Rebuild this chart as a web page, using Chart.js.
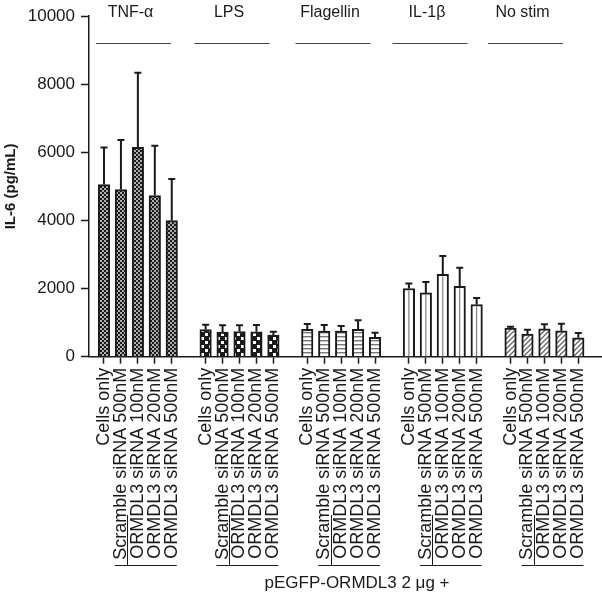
<!DOCTYPE html>
<html><head><meta charset="utf-8">
<script src="https://cdn.jsdelivr.net/npm/chart.js@4.4.1/dist/chart.umd.min.js"></script>
<style>html,body{margin:0;padding:0;background:#fff}#wrap{width:602px;height:594px}</style>
</head><body><div id="wrap"><canvas id="c" width="602" height="594"></canvas></div>
<script>
const groups = ['TNF-\u03b1', 'LPS', 'Flagellin', 'IL-1\u03b2', 'No stim'];
const conditions = ['Cells only', 'Scramble siRNA 500nM', 'ORMDL3 siRNA 100nM', 'ORMDL3 siRNA 200nM', 'ORMDL3 siRNA 500nM'];
const tnfMean = [5054, 4908, 6146, 4732, 3999];
const tnfErr  = [1092, 1454, 2195, 1464, 1220];
const lpsMean = [800, 720, 740, 730, 635];
const lpsErr  = [140, 200, 180, 200, 100];
const flaMean = [802, 752, 752, 802, 568];
const flaErr  = [155, 176, 146, 272, 134];
const il1Mean = [2002, 1873, 2420, 2069, 1533];
const il1Err  = [146, 322, 536, 547, 194];
const noMean  = [840, 664, 815, 761, 556];
const noErr   = [40, 130, 140, 210, 140];
const yTicks = [0, 2000, 4000, 6000, 8000, 10000];
const yTitle = 'IL-6 (pg/mL)';
const xTitle = 'pEGFP-ORMDL3 2 \u03bcg +';

const FONT = "'Liberation Sans', Arial, Helvetica, sans-serif";
const INK = '#1a1a1a';
const canvas = document.getElementById('c');
const ctx0 = canvas.getContext('2d');

function pat(w, h, draw) {
  const c = document.createElement('canvas'); c.width = w; c.height = h;
  const g = c.getContext('2d'); draw(g, w, h);
  return ctx0.createPattern(c, 'repeat');
}
const pTNF = pat(4, 4, g => { g.fillStyle = INK; g.fillRect(0,0,4,4); g.fillStyle = '#fff'; g.fillRect(0.2,0.2,1.6,1.6); g.fillRect(2.2,2.2,1.6,1.6); });
const pLPS = pat(8, 8, g => { g.fillStyle = INK; g.fillRect(0,0,8,8); g.fillStyle = '#fff'; g.fillRect(1,1,3,3); g.fillRect(5,5,3,3); });
const pFLA = pat(4, 4, g => { g.fillStyle = '#fff'; g.fillRect(0,0,4,4); g.fillStyle = '#777'; g.fillRect(0,0,4,1); g.fillStyle = '#c8c8c8'; g.fillRect(0,1,4,1); });
const pIL1 = '#ffffff';
const pNO = pat(5, 5, g => { g.fillStyle = '#fff'; g.fillRect(0,0,5,5); g.strokeStyle = '#666'; g.lineWidth = 1.3;
  g.beginPath(); g.moveTo(-1,6); g.lineTo(6,-1); g.moveTo(-1,1); g.lineTo(1,-1); g.moveTo(4,6); g.lineTo(6,4); g.stroke(); });

const series = [[tnfMean, tnfErr, pTNF], [lpsMean, lpsErr, pLPS], [flaMean, flaErr, pFLA], [il1Mean, il1Err, pIL1], [noMean, noErr, pNO]];
const positions = groups.flatMap((g, gi) => conditions.map((c, i) => gi * 6 + i));

const datasets = series.map(([m, e, p], gi) => ({
  label: groups[gi],
  data: m.map((v, i) => ({ x: gi * 6 + i, y: v })),
  errors: e,
  backgroundColor: p,
  borderColor: INK,
  borderWidth: 2,
  barThickness: 11.5,
  grouped: false
}));

const annot = {
  id: 'annot',
  afterDatasetsDraw(chart) {
    const c = chart.ctx, ys = chart.scales.y;
    c.save();
    chart.getDatasetMeta(3).data.forEach(el => {
      c.strokeStyle = '#666'; c.lineWidth = 1;
      c.beginPath(); c.moveTo(el.x, el.y + 2); c.lineTo(el.x, el.base); c.stroke();
    });
    chart.data.datasets.forEach((ds, di) => {
      chart.getDatasetMeta(di).data.forEach((el, i) => {
        const top = ys.getPixelForValue(ds.data[i].y + ds.errors[i]);
        c.strokeStyle = INK; c.lineWidth = 2;
        c.beginPath(); c.moveTo(el.x, el.y); c.lineTo(el.x, top);
        c.moveTo(el.x - 3.5, top); c.lineTo(el.x + 3.5, top); c.stroke();
      });
    });
    c.restore();
  },
  afterDraw(chart) {
    const c = chart.ctx, xs = chart.scales.x;
    c.save();
    const lineCenters = [133.5, 232, 333, 430, 525.5];
    c.font = '16px ' + FONT; c.fillStyle = INK; c.textAlign = 'center'; c.textBaseline = 'alphabetic';
    groups.forEach((g, gi) => {
      const cx = lineCenters[gi];
      c.fillText(g, cx - 3, 17);
      c.strokeStyle = '#444'; c.lineWidth = 1;
      c.beginPath(); c.moveTo(cx - 37.5, 43.5); c.lineTo(cx + 37.5, 43.5); c.stroke();
    });
    c.strokeStyle = INK; c.lineWidth = 1;
    groups.forEach((g, gi) => {
      const xs1 = xs.getPixelForValue(gi * 6 + 1);
      const xs2 = xs.getPixelForValue(gi * 6 + 2);
      const xe = xs.getPixelForValue(gi * 6 + 4);
      const vx = Math.round((xs1 + xs2) / 2) - 1.5;
      c.beginPath(); c.moveTo(vx, 515); c.lineTo(vx, 565.5);
      c.moveTo(xs1 - 6, 565.5); c.lineTo(xe + 5, 565.5); c.stroke();
    });
    c.font = '17px ' + FONT; c.textAlign = 'center'; c.textBaseline = 'middle';
    c.fillText(xTitle, 357, 583);
    c.restore();
  }
};

new Chart(canvas, {
  type: 'bar',
  data: { datasets },
  options: {
    responsive: false,
    animation: false,
    devicePixelRatio: 1,
    layout: { padding: { top: 15, right: 1, left: 0, bottom: 0 } },
    plugins: { legend: { display: false }, tooltip: { enabled: false } },
    scales: {
      x: {
        type: 'linear', min: -0.885, max: 29.34, offset: false,
        afterBuildTicks: s => { s.ticks = positions.map(v => ({ value: v })); },
        afterFit: s => { s.height = 237.3; s.paddingLeft = 0; s.paddingRight = 0; },
        ticks: { autoSkip: false, minRotation: 90, maxRotation: 90, padding: 4, color: INK,
          font: { family: FONT, size: 18, lineHeight: 1 },
          callback: v => conditions[((v % 6) + 6) % 6] },
        grid: { offset: false, drawOnChartArea: false, drawTicks: true, tickLength: 7, tickWidth: 1.5, tickColor: INK },
        border: { color: INK, width: 1.5 }
      },
      y: {
        min: 0, max: 10000,
        afterBuildTicks: s => { s.ticks = yTicks.map(v => ({ value: v })); },
        afterFit: s => { s.width = 89; },
        ticks: { padding: 6, color: INK, font: { family: FONT, size: 17 }, callback: v => String(v) },
        grid: { drawOnChartArea: false, drawTicks: true, tickLength: 8, tickWidth: 1.5, tickColor: INK },
        border: { color: INK, width: 1.5 },
        title: { display: true, text: yTitle, color: INK, font: { family: FONT, size: 15, weight: 'bold' }, padding: { top: 2, bottom: 0 } }
      }
    }
  },
  plugins: [annot]
});
</script></body></html>
